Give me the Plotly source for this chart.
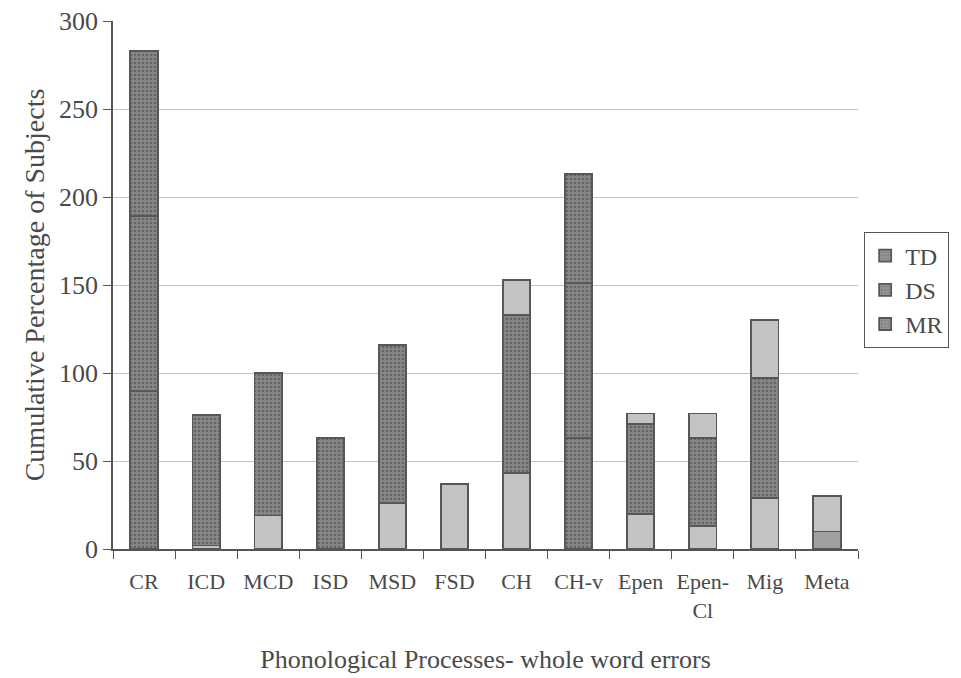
import plotly.graph_objects as go

categories = ["CR", "ICD", "MCD", "ISD", "MSD", "FSD", "CH", "CH-v", "Epen", "Epen-<br>Cl", "Mig", "Meta"]
mr = [90, 2, 19, 0, 26, 0, 43, 63, 20, 13, 29, 10]
ds = [99, 74, 81, 63, 90, 37, 90, 88, 51, 50, 68, 20]
td = [94, 0, 0, 0, 0, 0, 20, 62, 6, 14, 33, 0]

# visual appearance of each segment in the scanned reference: d = dotted dark, l = light, m = medium
mr_look = ["d", "l", "l", "l", "l", "l", "l", "d", "l", "l", "l", "m"]
ds_look = ["d", "d", "d", "d", "d", "l", "d", "d", "d", "d", "d", "l"]
td_look = ["d", "d", "d", "d", "d", "d", "l", "d", "l", "l", "l", "d"]

FILL = {"d": "#878787", "l": "#c4c4c4", "m": "#a0a0a0"}
SHAPE = {"d": ".", "l": "", "m": ""}

def style(look):
    return dict(
        color=[FILL[k] for k in look],
        line=dict(color="#575757", width=1.8),
        pattern=dict(shape=[SHAPE[k] for k in look], fgcolor="#b5b5b5",
                     bgcolor=[FILL[k] for k in look], size=4, solidity=0.35,
                     fillmode="overlay"),
    )

fig = go.Figure()
fig.add_bar(x=categories, y=mr, name="MR", marker=style(mr_look))
fig.add_bar(x=categories, y=ds, name="DS", marker=style(ds_look))
fig.add_bar(x=categories, y=td, name="TD", marker=style(td_look))

font = "Liberation Serif, Times New Roman, serif"
fig.update_layout(
    barmode="stack",
    bargap=0.56,
    width=961, height=678,
    margin=dict(l=113, r=99, t=21, b=129),
    plot_bgcolor="white", paper_bgcolor="white",
    font=dict(family=font, size=24, color="#4a4a4a"),
    showlegend=True,
    legend=dict(traceorder="reversed", x=1.008, xanchor="left", y=0.49, yanchor="middle",
                bordercolor="#555555", borderwidth=1.2, font=dict(size=24, color="#4a4a4a"),
                itemwidth=30, tracegroupgap=16),
    xaxis=dict(
        title=dict(text="Phonological Processes- whole word errors", font=dict(size=26), standoff=28),
        showline=True, linecolor="#555555", linewidth=1.5,
        ticks="outside", tickson="boundaries", ticklen=8, tickcolor="#555555",
        ticklabelstandoff=12, tickangle=0, automargin=False,
        tickfont=dict(size=22), showgrid=False,
    ),
    yaxis=dict(
        title=dict(text="Cumulative Percentage of Subjects", font=dict(size=28), standoff=6),
        range=[0, 300], dtick=50, automargin=False,
        showline=True, linecolor="#555555", linewidth=1.5,
        ticks="outside", ticklen=8, tickcolor="#555555",
        tickfont=dict(size=26),
        showgrid=True, gridcolor="#c2c2c2", gridwidth=1.2, zeroline=False,
    ),
)

fig.write_html("out.html")
